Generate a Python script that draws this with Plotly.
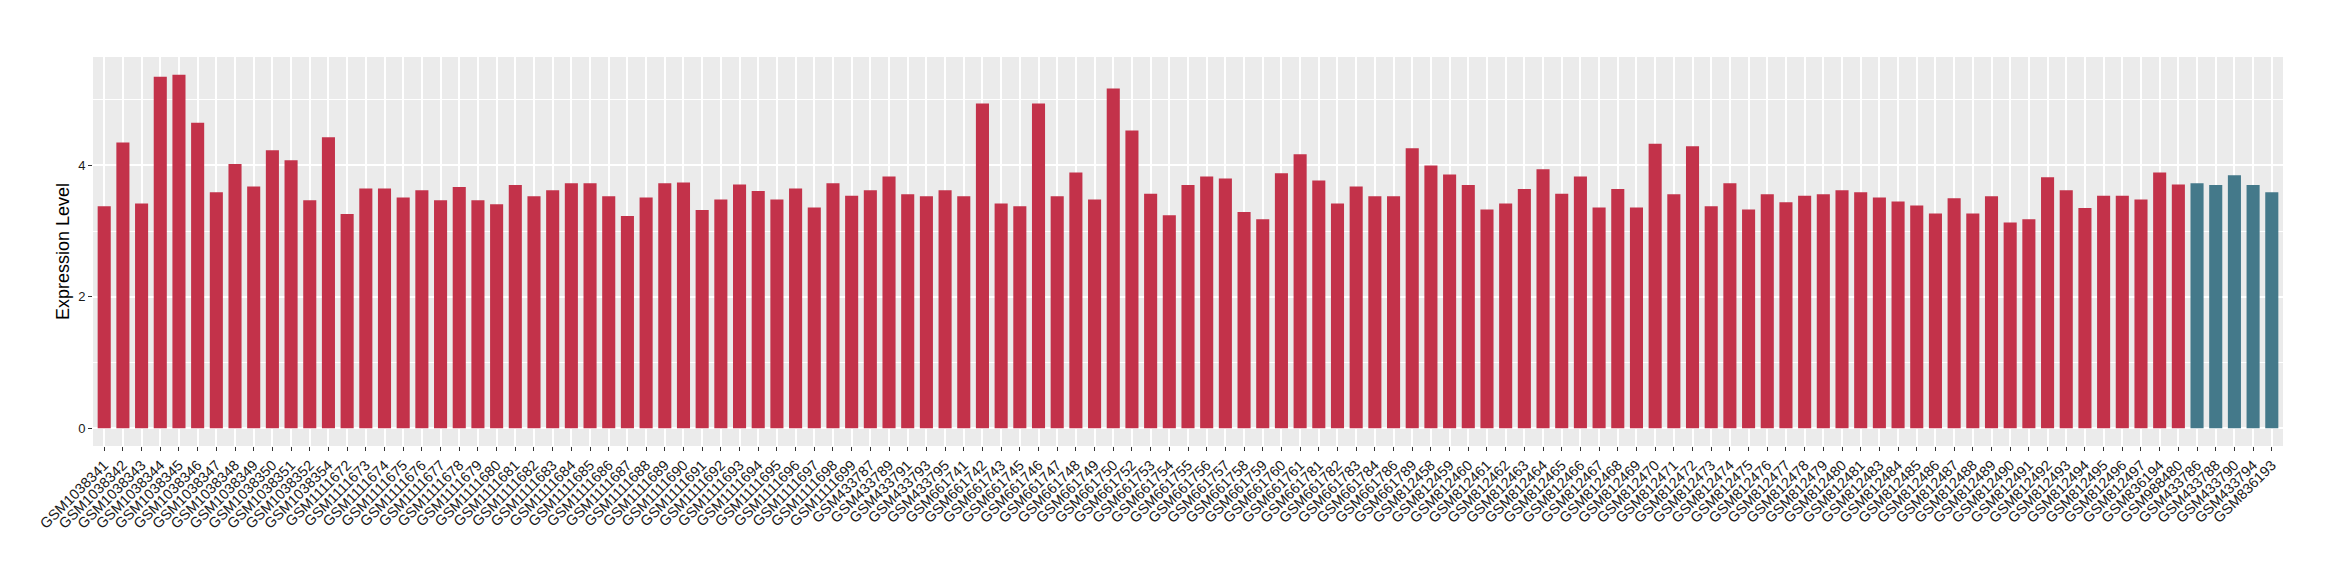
import plotly.graph_objects as go

# Group A samples (red)
samples_a = [
    "GSM1038341", "GSM1038342", "GSM1038343", "GSM1038344", "GSM1038345", "GSM1038346",
    "GSM1038347", "GSM1038348", "GSM1038349", "GSM1038350", "GSM1038351", "GSM1038352",
    "GSM1038354",
    "GSM1111672", "GSM1111673", "GSM1111674", "GSM1111675", "GSM1111676", "GSM1111677",
    "GSM1111678", "GSM1111679", "GSM1111680", "GSM1111681", "GSM1111682", "GSM1111683",
    "GSM1111684", "GSM1111685", "GSM1111686", "GSM1111687", "GSM1111688", "GSM1111689",
    "GSM1111690", "GSM1111691", "GSM1111692", "GSM1111693", "GSM1111694", "GSM1111695",
    "GSM1111696", "GSM1111697", "GSM1111698", "GSM1111699",
    "GSM433787", "GSM433789", "GSM433791", "GSM433793", "GSM433795",
    "GSM661741", "GSM661742", "GSM661743", "GSM661745", "GSM661746", "GSM661747",
    "GSM661748", "GSM661749", "GSM661750", "GSM661752", "GSM661753", "GSM661754",
    "GSM661755", "GSM661756", "GSM661757", "GSM661758", "GSM661759", "GSM661760",
    "GSM661761", "GSM661781", "GSM661782", "GSM661783", "GSM661784", "GSM661786",
    "GSM661789",
    "GSM812458", "GSM812459", "GSM812460", "GSM812461", "GSM812462", "GSM812463",
    "GSM812464", "GSM812465", "GSM812466", "GSM812467", "GSM812468", "GSM812469",
    "GSM812470", "GSM812471", "GSM812472", "GSM812473", "GSM812474", "GSM812475",
    "GSM812476", "GSM812477", "GSM812478", "GSM812479", "GSM812480", "GSM812481",
    "GSM812483", "GSM812484", "GSM812485", "GSM812486", "GSM812487", "GSM812488",
    "GSM812489", "GSM812490", "GSM812491", "GSM812492", "GSM812493", "GSM812494",
    "GSM812495", "GSM812496", "GSM812497",
    "GSM836194", "GSM988480",
]
values_a = [
    3.38, 4.35, 3.42, 5.35, 5.38, 4.65,
    3.59, 4.02, 3.68, 4.23, 4.08, 3.47,
    4.43,
    3.26, 3.65, 3.65, 3.51, 3.62, 3.47,
    3.67, 3.47, 3.41, 3.70, 3.53, 3.62,
    3.73, 3.73, 3.53, 3.23, 3.51, 3.73,
    3.74, 3.32, 3.48, 3.71, 3.61, 3.48,
    3.65, 3.36, 3.73, 3.54,
    3.62, 3.83, 3.56, 3.53, 3.62,
    3.53, 4.94, 3.42, 3.38, 4.94, 3.53,
    3.89, 3.48, 5.17, 4.53, 3.57, 3.24,
    3.70, 3.83, 3.80, 3.29, 3.18, 3.88,
    4.17, 3.77, 3.42, 3.68, 3.53, 3.53,
    4.26,
    4.00, 3.86, 3.70, 3.33, 3.42, 3.64,
    3.94, 3.57, 3.83, 3.36, 3.64, 3.36,
    4.33, 3.56, 4.29, 3.38, 3.73, 3.33,
    3.56, 3.44, 3.54, 3.56, 3.62, 3.59,
    3.51, 3.45, 3.39, 3.27, 3.50, 3.27,
    3.53, 3.13, 3.18, 3.82, 3.62, 3.35,
    3.54, 3.54, 3.48,
    3.89, 3.71,
]

# Group B samples (blue)
samples_b = ["GSM433786", "GSM433788", "GSM433790", "GSM433794", "GSM836193"]
values_b = [3.73, 3.70, 3.85, 3.70, 3.59]

y_ticks = [0, 2, 4]
y_title = "Expression Level"

order = samples_a + samples_b

fig = go.Figure()
fig.add_trace(go.Bar(x=samples_a, y=values_a, marker=dict(color="#C3324A", line=dict(width=0)),
                     width=0.7, showlegend=False))
fig.add_trace(go.Bar(x=samples_b, y=values_b, marker=dict(color="#44798A", line=dict(width=0)),
                     width=0.7, showlegend=False))

ymax = max(values_a + values_b)
span = ymax
# page body has an 8px default margin; figure sized to fit inside the window
fig.update_layout(
    width=2324, height=564,
    margin=dict(l=85, r=49, t=49, b=126, pad=0),
    paper_bgcolor="white",
    plot_bgcolor="#EBEBEB",
    barmode="overlay",
    font=dict(family="Liberation Sans, Arial, sans-serif", color="#1a1a1a"),
    xaxis=dict(
        type="category", categoryorder="array", categoryarray=order,
        range=[-0.6, len(order) - 1 + 0.6],
        automargin=False,
        showgrid=True, gridcolor="white", gridwidth=1.5,
        ticks="outside", ticklen=4, tickcolor="#333333", tickwidth=1,
        tickangle=-45, tickfont=dict(size=14.5, color="#1a1a1a"),
        showline=False, zeroline=False,
    ),
    yaxis=dict(
        range=[-0.05 * span, ymax * 1.05],
        automargin=False,
        tickmode="array", tickvals=y_ticks, ticktext=[str(t) for t in y_ticks],
        showgrid=True, gridcolor="white", gridwidth=1.5,
        minor=dict(tickmode="linear", tick0=0, dtick=1, showgrid=True, gridcolor="white", gridwidth=0.7, ticks=""),
        ticks="outside", ticklen=4, tickcolor="#333333", tickwidth=1,
        tickfont=dict(size=13, color="#1a1a1a"),
        zeroline=False, showline=False,
        title=dict(text=y_title, font=dict(size=18, color="black"), standoff=3),
    ),
)

fig.write_html("out.html")
